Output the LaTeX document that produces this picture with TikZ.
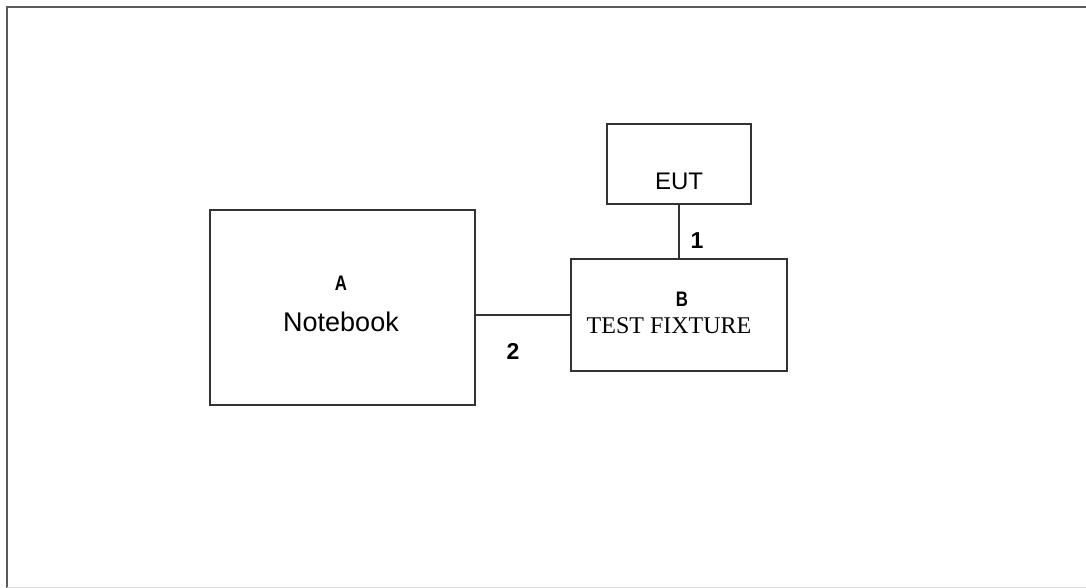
\documentclass[tikz,border=0pt]{standalone}
\usepackage{fontspec}
\setmainfont{Liberation Sans}
\newfontfamily\serifbox{Liberation Serif}
\definecolor{boxline}{HTML}{333333}
\definecolor{frameline}{HTML}{5A5A5A}
\begin{document}
\begin{tikzpicture}[x=1pt,y=-1pt,
  unitbox/.style={draw=boxline,line width=1.3pt,fill=white},
  bigtxt/.style={font=\fontsize{24}{28}\selectfont,inner sep=0pt},
  lettxt/.style={font=\fontsize{21}{24}\selectfont\bfseries,inner sep=0pt,xscale=0.8},
  numtxt/.style={font=\fontsize{23}{26}\selectfont\bfseries,inner sep=0pt},
  wire/.style={draw=boxline,line width=1.3pt}]
\useasboundingbox (0,0) rectangle (1086,588);
\fill[white] (0,0) rectangle (1086,588);
% outer frame
\draw[frameline,line width=2.2pt] (7,588) -- (7,7) -- (1086,7);
\draw[black!12,line width=1pt] (7,587) -- (1086,587);
% boxes
\path[unitbox] (210,210) rectangle (475,405);
\path[unitbox] (607,124) rectangle (751,204);
\path[unitbox] (571,259) rectangle (787,371);
\node[inner sep=0pt,minimum width=265pt,minimum height=195pt] (A) at (342.5,307.5) {};
\node[inner sep=0pt,minimum width=144pt,minimum height=80pt] (E) at (679,164) {};
\node[inner sep=0pt,minimum width=216pt,minimum height=112pt] (B) at (679,315) {};
% texts
\node[lettxt] (Alab) at (341,283) {A};
\node[inner sep=0pt,font=\fontsize{27}{30}\selectfont] (Anote) at (341,322) {Notebook};
\node[bigtxt] (Elab) at (679,181) {EUT};
\node[lettxt] (Blab) at (682,299) {B};
\node[inner sep=0pt,font=\serifbox\fontsize{24}{28}\selectfont] (Btxt) at (669,326) {TEST FIXTURE};
% connectors
\draw[wire] (E.south) -- (E.south |- B.north);
\draw[wire] (A.east |- 0,315) -- (B.west |- 0,315);
\node[numtxt] (n1) at (697,241) {1};
\node[numtxt] (n2) at (513,351) {2};
\end{tikzpicture}
\end{document}
